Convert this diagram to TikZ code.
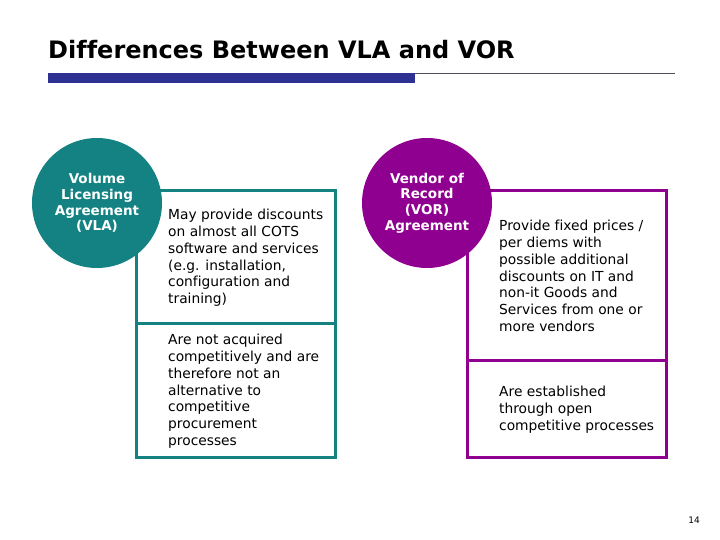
\documentclass[tikz,border=0pt]{standalone}
\usepackage{fontspec}
\setmainfont[Ligatures=NoCommon]{DejaVu Sans}
\definecolor{tealc}{RGB}{20,130,130}
\definecolor{purp}{RGB}{144,0,144}
\definecolor{barblue}{RGB}{46,49,146}
\definecolor{rulegray}{RGB}{80,80,100}
\tikzset{
  circ/.style={circle,minimum size=130pt,inner sep=0pt,text=white,align=center,font=\fontsize{13.5}{15.7}\selectfont\bfseries},
  boxline/.style={line width=3pt},
  body/.style={anchor=north west,inner sep=0pt,align=left,font=\fontsize{13.8}{16.8}\selectfont}
}
\begin{document}
\begin{tikzpicture}[x=1pt,y=-1pt]
\useasboundingbox (0,0) rectangle (720,540);
% title
\node[anchor=base west,inner sep=0pt,font=\fontsize{24}{28}\selectfont\bfseries] (title) at (48,59) {Differences Between VLA and VOR};
\fill[barblue] (48,73) rectangle (415,83);
\draw[rulegray,line width=1pt] (415,73.5) -- (675,73.5);
% VLA box
\draw[tealc,boxline] (136,191) rectangle (335,457);
\draw[tealc,boxline] (136,323) -- (335,323);
\node[body] (vla1) at (168,209) {May provide discounts\\on almost all COTS\\software and services\\(e.g. installation,\\configuration and\\training)};
\node[body] (vla2) at (168,334) {Are not acquired\\competitively and are\\therefore not an\\alternative to\\competitive\\procurement\\processes};
\node[circ,fill=tealc] (vla) at (97,203) {Volume\\Licensing\\Agreement\\(VLA)};
% VOR box
\draw[purp,boxline] (467,191) rectangle (666,457);
\draw[purp,boxline] (467,360) -- (666,360);
\node[body] (vor1) at (499,220) {Provide fixed prices /\\per diems with\\possible additional\\discounts on IT and\\non-it Goods and\\Services from one or\\more vendors};
\node[body] (vor2) at (499,386) {Are established\\through open\\competitive processes};
\node[circ,fill=purp] (vor) at (427,203) {Vendor of\\Record\\(VOR)\\Agreement};
% page number
\node[font=\fontsize{9}{11}\selectfont] (pg) at (694,520) {14};
\end{tikzpicture}
\end{document}
